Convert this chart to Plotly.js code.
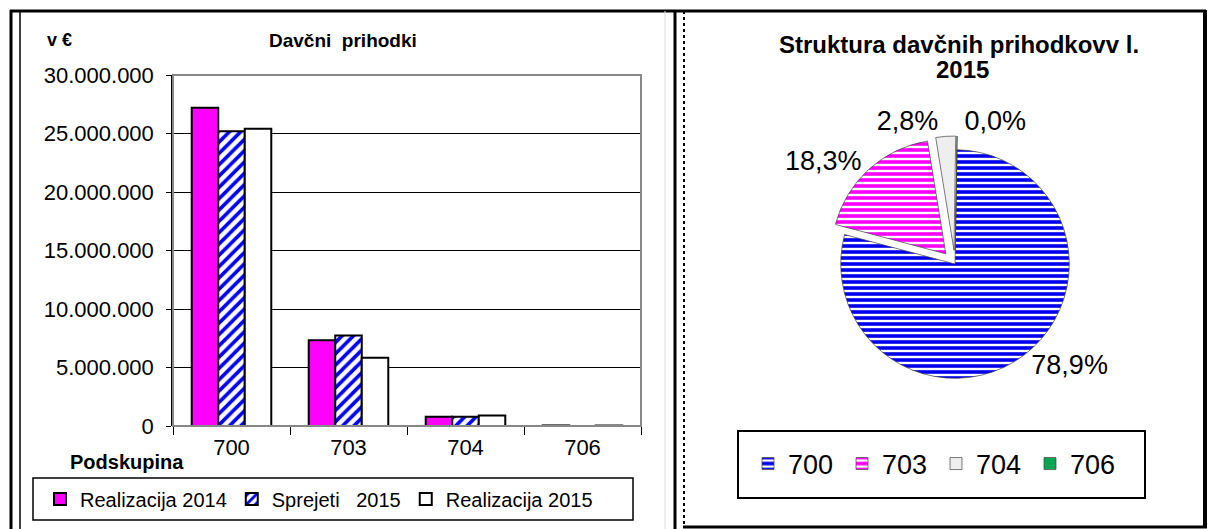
<!DOCTYPE html>
<html>
<head>
<meta charset="utf-8">
<script src="https://cdn.plot.ly/plotly-3.0.1.min.js"></script>
<style>
  html, body { margin: 0; padding: 0; background: #fff; }
  #plot { width: 1209px; height: 529px; }
</style>
</head>
<body>
<div id="plot"></div>
<script>
// Bar chart data (v €)
const categories = ['700', '703', '704', '706'];
const real2014 = [27200000, 7330000, 800000, 50000];
const sprejeti2015 = [25200000, 7730000, 800000, 0];
const real2015 = [25400000, 5830000, 890000, 40000];

// Pie data (struktura 2015, %)
const pieLabels = ['700', '703', '704', '706'];
const pieShares = [78.9, 18.3, 2.8, 0.04];
const pieColors = ['#0000ee', '#ff00ff', '#eeeeee', '#00a651'];

const W = 1209, H = 529;
const px = x => x / W;
const py = y => 1 - y / H;
const FONT = 'Liberation Sans, Arial, sans-serif';

const barLine = {color: '#000', width: 2};

const traces = [
    {
        type: 'bar', name: 'Realizacija 2014',
        x: categories, y: real2014,
        marker: {color: '#ff00ff', line: barLine}
    },
    {
        type: 'bar', name: 'Sprejeti   2015',
        x: categories, y: sprejeti2015,
        marker: {
            color: '#ffffff', line: barLine,
            pattern: {shape: '/', fgcolor: '#0000ff', bgcolor: '#ffffff', size: 8, solidity: 0.45}
        }
    },
    {
        type: 'bar', name: 'Realizacija 2015',
        x: categories, y: real2015,
        marker: {color: '#ffffff', line: barLine}
    },
    {
        type: 'pie', legend: 'legend2',
        labels: pieLabels, values: pieShares,
        sort: false, direction: 'clockwise', rotation: 1,
        pull: [0, 0.12, 0.12, 0.12],
        domain: {x: [px(820), px(1090)], y: [py(392), py(136)]},
        marker: {
            colors: pieColors,
            line: {color: '#444', width: 0.7},
            pattern: {
                shape: ['-', '-', '', ''],
                fgcolor: ['#ffffff', '#ffffff', '#eeeeee', '#00a651'],
                bgcolor: pieColors,
                size: 6, solidity: 0.4
            }
        },
        textposition: 'outside',
        texttemplate: '%{percent:.1%}',
        outsidetextfont: {size: 27, color: '#000', family: FONT},
        hoverinfo: 'label+percent'
    }
];

function vline(x, y0, y1, width, color, dash) {
    return {type: 'line', xref: 'paper', yref: 'paper', x0: px(x), x1: px(x), y0: py(y0), y1: py(y1),
        line: {color: color || '#000', width: width, dash: dash || 'solid'}};
}
function hline(y, x0, x1, width, color) {
    return {type: 'line', xref: 'paper', yref: 'paper', x0: px(x0), x1: px(x1), y0: py(y), y1: py(y),
        line: {color: color || '#000', width: width}};
}
function box(x0, y0, x1, y1, width) {
    return {type: 'rect', xref: 'paper', yref: 'paper', x0: px(x0), x1: px(x1), y0: py(y1), y1: py(y0),
        line: {color: '#000', width: width}, fillcolor: 'rgba(0,0,0,0)'};
}

const shapes = [
    // panel frames
    vline(11, 10, 529, 3),
    vline(20, 11, 529, 1.5),
    hline(11, 10, 1206, 3),
    vline(665, 11, 529, 1, '#dddddd'),
    vline(675, 11, 529, 3),
    vline(684, 11, 527, 2, '#000', 'dot'),
    vline(1205, 10, 528, 4),
    hline(527, 683, 1207, 3),
    // plot area border (grey)
    {type: 'rect', xref: 'x domain', yref: 'y domain', x0: 0, x1: 1, y0: 0, y1: 1,
        line: {color: '#888', width: 2}, layer: 'above'},
    // legend boxes
    box(33, 478, 633, 520, 1.5),
    box(738, 431, 1145, 498, 2)
];

const annotations = [
    {text: '<b>v €</b>', x: px(45), y: py(40), xanchor: 'left', yanchor: 'middle', font: {size: 18}},
    {text: '<b>Davčni  prihodki</b>', x: px(343), y: py(40), xanchor: 'center', yanchor: 'middle', font: {size: 19}},
    {text: '<b>Podskupina</b>', x: px(68), y: py(462), xanchor: 'left', yanchor: 'middle', font: {size: 20}},
    {text: '<b>Struktura davčnih prihodkovv l.</b>', x: px(959), y: py(44), xanchor: 'center', yanchor: 'middle', font: {size: 24}},
    {text: '<b>2015</b>', x: px(962), y: py(69), xanchor: 'center', yanchor: 'middle', font: {size: 24}}
].map(a => Object.assign({xref: 'paper', yref: 'paper', showarrow: false}, a));

const layout = {
    width: W, height: H,
    margin: {l: 0, r: 0, t: 0, b: 0},
    paper_bgcolor: '#fff', plot_bgcolor: '#fff',
    font: {family: FONT, color: '#000'},
    separators: ',.',
    barmode: 'group', bargap: 0.32, bargroupgap: 0,
    xaxis: {
        domain: [px(173), px(641)],
        type: 'category',
        tickson: 'boundaries', ticks: 'outside', ticklen: 8, tickcolor: '#000',
        ticklabelstandoff: 6,
        tickfont: {size: 22, color: '#000'},
        showline: false, showgrid: false
    },
    yaxis: {
        domain: [py(426), py(75)],
        range: [0, 30000000], dtick: 5000000, tickformat: ',d',
        ticks: 'outside', ticklen: 5, tickcolor: '#000',
        ticklabelstandoff: 8,
        tickfont: {size: 22, color: '#000'},
        showline: true, linecolor: '#000', linewidth: 1.5,
        showgrid: true, gridcolor: '#000', gridwidth: 1,
        zeroline: false
    },
    showlegend: true,
    legend: {
        orientation: 'h', x: px(40), y: py(499), xanchor: 'left', yanchor: 'middle',
        font: {size: 20}, itemwidth: 30,
        bgcolor: 'rgba(0,0,0,0)', borderwidth: 0, traceorder: 'normal'
    },
    legend2: {
        orientation: 'h', x: px(748), y: py(464), xanchor: 'left', yanchor: 'middle',
        font: {size: 27}, itemwidth: 30, entrywidth: 49,
        bgcolor: 'rgba(0,0,0,0)', borderwidth: 0, traceorder: 'normal'
    },
    shapes: shapes,
    annotations: annotations
};

Plotly.newPlot('plot', traces, layout, {displayModeBar: false, responsive: false});
</script>
</body>
</html>
